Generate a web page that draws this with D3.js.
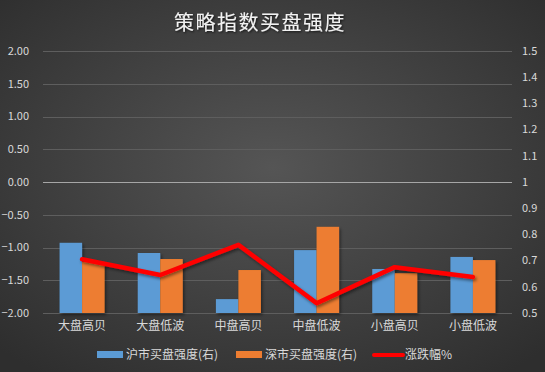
<!DOCTYPE html>
<html><head><meta charset="utf-8">
<script src="https://cdn.jsdelivr.net/npm/d3@7"></script>
<style>body{margin:0;background:#3a3a3a}svg{display:block}</style>
</head><body>
<svg id="c" width="545" height="372"></svg>
<script>
const categories = ["大盘高贝","大盘低波","中盘高贝","中盘低波","小盘高贝","小盘低波"];
const shBuy = [0.768, 0.729, 0.553, 0.740, 0.668, 0.714];
const szBuy = [0.695, 0.706, 0.664, 0.829, 0.652, 0.702];
const change = [-1.18, -1.42, -0.96, -1.85, -1.30, -1.45];
const leftTicks = [2, 1.5, 1, 0.5, 0, -0.5, -1, -1.5, -2];
const rightTicks = [1.5, 1.4, 1.3, 1.2, 1.1, 1.0, 0.9, 0.8, 0.7, 0.6, 0.5];
const seriesNames = ["沪市买盘强度(右)", "深市买盘强度(右)", "涨跌幅%"];

const svg = d3.select("#c");
const W = 545, H = 372;
const defs = svg.append("defs");
const rg = defs.append("radialGradient").attr("id","bg").attr("cx","50%").attr("cy","45%").attr("r","70%");
rg.append("stop").attr("offset","0%").attr("stop-color","#555555");
rg.append("stop").attr("offset","100%").attr("stop-color","#2e2e2e");
const f = defs.append("filter").attr("id","sh").attr("x","-20%").attr("y","-20%").attr("width","150%").attr("height","150%");
f.append("feDropShadow").attr("dx",1.5).attr("dy",2).attr("stdDeviation",1.5).attr("flood-color","#000").attr("flood-opacity",0.45);
const ft = defs.append("filter").attr("id","tsh");
ft.append("feDropShadow").attr("dx",1).attr("dy",1).attr("stdDeviation",1).attr("flood-color","#000").attr("flood-opacity",0.7);

svg.append("rect").attr("width",W).attr("height",H).attr("fill","url(#bg)");

const x0 = 43, x1 = 512, yTop = 51, yBot = 313;
const x = d3.scaleBand().domain(categories).range([x0, x1]).paddingInner(0).paddingOuter(0);
const xs = d3.scaleBand().domain([0,1]).range([0, 45]);
const yL = d3.scaleLinear().domain([-2, 2]).range([yBot, yTop]);
const yR = d3.scaleLinear().domain([0.5, 1.5]).range([yBot, yTop]);

const font = "'Microsoft YaHei','Noto Sans CJK SC',sans-serif";

// gridlines
svg.append("g").selectAll("line").data(leftTicks).join("line")
  .attr("x1", x0).attr("x2", x1)
  .attr("y1", d => Math.round(yL(d)) + 0.5).attr("y2", d => Math.round(yL(d)) + 0.5)
  .attr("stroke", d => d === 0 ? "#a6a6a6" : "#5e5e5e").attr("stroke-width", 1);

// left axis labels
svg.append("g").selectAll("text").data(leftTicks).join("text")
  .attr("x", 29).attr("y", d => yL(d)).attr("dy","0.35em")
  .attr("text-anchor","end").attr("fill","#d9d9d9")
  .style("font", "11px " + font).text(d => d3.format(".2f")(d));

// right axis labels
svg.append("g").selectAll("text").data(rightTicks).join("text")
  .attr("x", 522).attr("y", d => yR(d)).attr("dy","0.35em")
  .attr("text-anchor","start").attr("fill","#d9d9d9")
  .style("font", "11px " + font).text(d => d === 1 ? "1" : d3.format(".1f")(d));

// bars
const colors = ["#5b9bd5", "#ed7d31"];
const gb = svg.append("g").attr("filter","url(#sh)");
[shBuy, szBuy].forEach((arr, si) => {
  gb.append("g").selectAll("rect").data(arr).join("rect")
    .attr("x", (d,i) => x(categories[i]) + (x.bandwidth()-45)/2 + xs(si))
    .attr("width", xs.bandwidth())
    .attr("y", d => yR(d))
    .attr("height", d => yR(0.5) - yR(d))
    .attr("fill", colors[si]);
});

// line
const line = d3.line().x((d,i) => x(categories[i]) + x.bandwidth()/2).y(d => yL(d));
svg.append("path").datum(change).attr("d", line)
  .attr("fill","none").attr("stroke","#ff0000").attr("stroke-width",4.5)
  .attr("stroke-linejoin","round").attr("stroke-linecap","round").attr("filter","url(#sh)");

// x labels
svg.append("g").selectAll("text").data(categories).join("text")
  .attr("x", d => x(d) + x.bandwidth()/2).attr("y", 330)
  .attr("text-anchor","middle").attr("fill","#d9d9d9")
  .style("font", "12px " + font).text(d => d);

// title
svg.append("text").attr("x", 260).attr("y", 30).attr("text-anchor","middle")
  .attr("fill","#f2f2f2").attr("filter","url(#tsh)")
  .style("font", "400 20px " + font).style("letter-spacing","1.5px").text("策略指数买盘强度");

// legend
const lg = svg.append("g");
const lx = [97, 236, 374];
lg.append("rect").attr("x", lx[0]).attr("y", 351).attr("width", 26).attr("height", 7).attr("fill", colors[0]);
lg.append("rect").attr("x", lx[1]).attr("y", 351).attr("width", 26).attr("height", 7).attr("fill", colors[1]);
lg.append("line").attr("x1", lx[2]).attr("x2", lx[2]+29).attr("y1", 355).attr("y2", 355)
  .attr("stroke","#ff0000").attr("stroke-width",4).attr("stroke-linecap","round");
lg.selectAll("text").data(seriesNames).join("text")
  .attr("x", (d,i) => lx[i] + (i===2 ? 31 : 29)).attr("y", 355).attr("dy","0.35em")
  .attr("fill","#d9d9d9").style("font", "12px " + font).text(d => d);
</script>
</body></html>
